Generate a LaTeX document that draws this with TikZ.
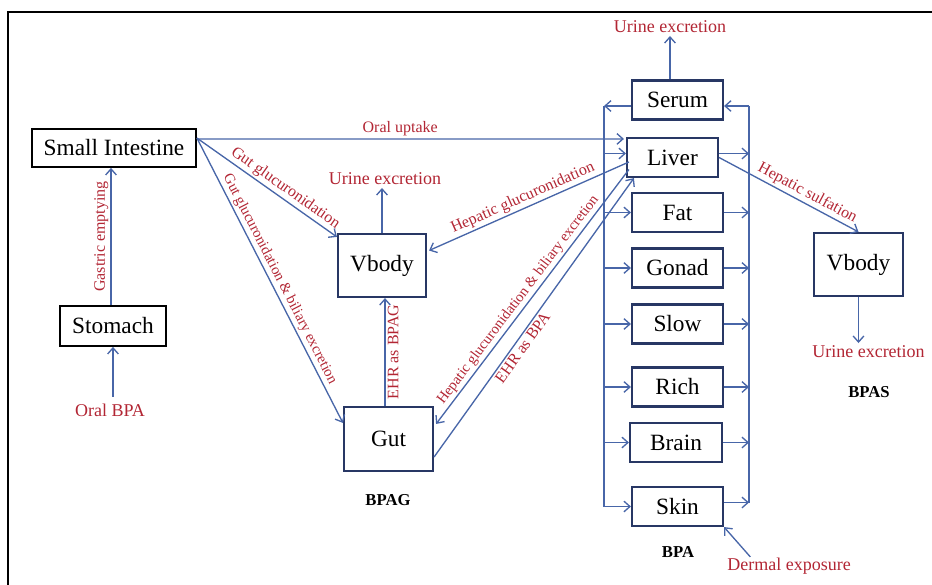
\documentclass[tikz,border=0pt]{standalone}
\usepackage{fontspec}
\setmainfont{Liberation Serif}
\usetikzlibrary{arrows.meta,calc}
\definecolor{lred}{RGB}{178,38,52}
\definecolor{lblue}{RGB}{72,102,168}
\definecolor{bnavy}{RGB}{40,55,100}
\begin{document}
\begin{tikzpicture}[x=0.75pt,y=-0.75pt,
  bbox/.style={draw=black,line width=1.4pt,inner sep=0pt,font=\fontsize{17.5}{20}\selectfont},
  nbox/.style={draw=bnavy,line width=1.6pt,inner sep=0pt,font=\fontsize{17.5}{20}\selectfont},
  obox/.style={nbox,minimum width=68.25pt,minimum height=29.25pt},
  rtxt/.style={text=lred,font=\fontsize{13.5}{16}\selectfont,inner sep=2pt},
  btxt/.style={text=black,font=\bfseries\fontsize{12.5}{15}\selectfont},
  lab/.style={text=lred,font=\fontsize{12}{14}\selectfont,inner sep=1.5pt},
  labs/.style={text=lred,font=\fontsize{11}{13}\selectfont,inner sep=1.5pt},
  arr/.style={-{Straight Barb[length=4.5pt,width=8pt]},draw=lblue,line width=1pt},
  arrb/.style={{Straight Barb[length=4.5pt,width=8pt]}-,draw=lblue,line width=1pt},
  bus/.style={draw=lblue,line width=1pt}]
\useasboundingbox (0,0) rectangle (932,585);
% frame
\draw[black,line width=1.5pt] (932,12) -- (8,12) -- (8,585);

% boxes
\node[bbox,minimum width=123pt,minimum height=28.5pt] (si) at (114,148) {Small Intestine};
\node[bbox,minimum width=79.5pt,minimum height=30pt] (stom) at (113,326) {Stomach};
\node[nbox,minimum width=66pt,minimum height=47.25pt] (vb1) at (382,265.5) {Vbody};
\node[nbox,minimum width=66.75pt,minimum height=48pt] (gut) at (388.5,439) {Gut};
\node[obox] (serum) at (677.5,100) {Serum};
\node[obox] (liver) at (672.5,157.5) {Liver};
\node[obox] (fat) at (677.5,212.5) {Fat};
\node[obox] (gonad) at (677.5,268) {Gonad};
\node[obox] (slow) at (677.5,324) {Slow};
\node[obox] (rich) at (677.5,387) {Rich};
\node[obox,minimum width=69pt] (brain) at (676,442.5) {Brain};
\node[obox] (skin) at (677.5,506.5) {Skin};
\node[nbox,minimum width=66.75pt,minimum height=47.25pt] (vb2) at (858.5,264.5) {Vbody};

% texts
\node[rtxt] (oralbpa) at (110,410) {Oral BPA};
\node[rtxt] (ue1) at (385,179) {Urine excretion};
\node[rtxt] (ue2) at (670,27) {Urine excretion};
\node[rtxt] (ue3) at (868.5,352) {Urine excretion};
\node[rtxt] (de) at (789,566) {Dermal exposure};
\node[btxt] (bpag) at (388,500) {BPAG};
\node[btxt] (bpa) at (678,552) {BPA};
\node[btxt] (bpas) at (869,392) {BPAS};

% left part
\draw[arr,shorten <=3pt] (stom.south |- oralbpa.north) -- (stom.south);
\draw[arr] ($(stom.north)+(-2,0)$) -- ($(si.south)+(-3,0)$)
  node[lab,midway,sloped,above] {Gastric emptying};
\draw[arr] ($(si.north east)+(0,11)$) -- ($(liver.north west)+(-2,2)$)
  node[lab,pos=0.476,above] {Oral uptake};
\draw[arr] ($(si.north east)+(0,10)$) -- ($(vb1.north west)+(0,4)$)
  node[lab,pos=0.59,sloped,above] {Gut glucuronidation};
\draw[arr] ($(si.north east)+(0,10)$) -- ($(gut.north west)+(0,17)$)
  node[labs,pos=0.51,sloped,above] {Gut glucuronidation \& biliary excretion};
\draw[arr] (vb1.north) -- (vb1.north |- ue1.south);
\draw[arr] ($(gut.north)+(-3.5,0)$) -- ($(vb1.south)+(3,0)$)
  node[lab,midway,sloped,below] {EHR as BPAG};

% liver links
\draw[arrb] ($(vb1.east)+(2,-15)$) -- ($(liver.west)+(3,4.5)$)
  node[lab,pos=0.49,sloped,above] {Hepatic glucuronidation};
\draw[arrb] ($(gut.north east)+(2,18)$) -- ($(liver.west)+(3,12)$)
  node[labs,pos=0.465,sloped,above] {Hepatic glucuronidation \& biliary excretion};
\draw[arr] ($(gut.east)+(0,18)$) -- ($(liver.south west)+(8,0)$)
  node[lab,pos=0.41,sloped,below] {EHR as BPA};
\draw[arr] (liver.east) -- (vb2.north)
  node[lab,pos=0.6,sloped,above] {Hepatic sulfation};
\draw[arr] (vb2.south) -- (vb2.south |- ue3.north);

% buses
\coordinate (lt) at (604,106);
\coordinate (rt) at (749,106);
\draw[bus] (lt) -- (lt |- skin.west);
\draw[bus] (rt) -- ($(rt |- skin.east)+(0,-4)$);
\draw[arr] (serum.north -| ue2.south) -- (ue2.south);
\draw[arr] ($(serum.west)+(0,6)$) -- (lt);
\draw[arr] (rt) -- ($(serum.east)+(0,6)$);
\draw[arr] ($(lt |- liver.west)+(0,-4)$) -- ($(liver.west)+(0,-4)$);
\draw[arr] ($(liver.east)+(0,-4)$) -- ($(rt |- liver.east)+(0,-4)$);
\foreach \o in {fat,gonad,slow,rich,brain}{
  \draw[arr] (lt |- \o.west) -- (\o.west);
  \draw[arr] (\o.east) -- (rt |- \o.east);
}
\draw[arr] (lt |- skin.west) -- (skin.west);
\draw[arr] ($(skin.east)+(0,-4)$) -- ($(rt |- skin.east)+(0,-4)$);
\draw[arr] ($(de.north west)+(26,2)$) -- (skin.south east);
\end{tikzpicture}
\end{document}
